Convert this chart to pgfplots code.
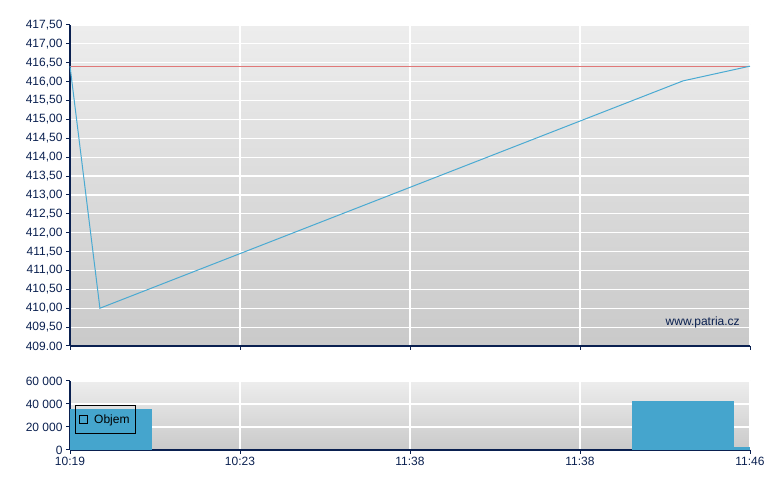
\documentclass[border=0pt]{standalone}
\usepackage{pgfplots}
\pgfplotsset{compat=1.18}
\usepackage{fontspec}
\setmainfont{Liberation Sans}
\definecolor{axnavy}{HTML}{0A2050}
\definecolor{linblue}{HTML}{4AAAD2}
\definecolor{barblue}{HTML}{45A5CD}
\definecolor{refred}{HTML}{E07878}
\begin{document}
\begin{tikzpicture}[x=1bp,y=1bp]
\useasboundingbox (0,0) rectangle (780,490);
\pgfplotsset{
 every axis/.append style={
  scale only axis, width=680bp, xmin=0, xmax=4,
  axis lines=left, axis line style={-, draw=axnavy, line width=1.2bp},
  tick style={draw=axnavy, line width=1bp}, tick align=outside, major tick length=4bp,
  grid=major, major grid style={white, line width=1.2bp},
  tick label style={font=\fontsize{12bp}{14bp}\selectfont, text=axnavy},
  xtick={0,1,2,3,4}, scaled y ticks=false,
 }}
% price chart
\begin{axis}[at={(70bp,144bp)}, anchor=south west, height=321bp,
  ymin=409, ymax=417.5,
  ytick={409,409.5,410,410.5,411,411.5,412,412.5,413,413.5,414,414.5,415,415.5,416,416.5,417,417.5},
  yticklabels={{409.00},{409,50},{410,00},{410,50},{411,00},{411,50},{412,00},{412,50},{413,00},{413,50},{414,00},{414,50},{415,00},{415,50},{416,00},{416,50},{417,00},{417,50}},
  xticklabels={},
  axis background/.style={shade, top color=white!93!black, bottom color=white!79!black},
  clip=false]
\addplot[refred, line width=1.2bp] coordinates {(0,416.41) (4,416.41)};
\addplot[linblue, line width=1bp] coordinates {(0,416.41) (0.176,410.0) (3.606,416.02) (4,416.41)};
\node[anchor=east, font=\fontsize{12bp}{14bp}\selectfont, text=axnavy] at (rel axis cs:0.99,0.072) {www.patria.cz};
\end{axis}
% volume chart
\begin{axis}[at={(70bp,40bp)}, anchor=south west, height=69bp,
  ymin=0, ymax=60000,
  ytick={0,20000,40000,60000},
  yticklabels={{0},{20 000},{40 000},{60 000}},
  xticklabels={10:19,10:23,11:38,11:38,11:46},
  axis background/.style={shade, top color=white!93!black, bottom color=white!79!black},
  legend style={at={(0.0074,0.652)}, anchor=north west, draw=black, fill=none, line width=0.8bp,
    font=\fontsize{12bp}{14bp}\selectfont, inner xsep=4bp, inner ysep=7bp,
    /tikz/every odd column/.append style={column sep=4bp}},
  ]
\addplot[fill=barblue, draw=none, forget plot] coordinates {(0,0) (0,35600) (0.482,35600) (0.482,0)} -- cycle;
\addplot[fill=barblue, draw=none, forget plot] coordinates {(3.306,0) (3.306,42600) (3.906,42600) (3.906,0)} -- cycle;
\addplot[fill=barblue, draw=none, forget plot] coordinates {(3.906,0) (3.906,2600) (4,2600) (4,0)} -- cycle;
\addlegendimage{legend image code/.code={\draw[black, line width=0.8bp] (3bp,-4bp) rectangle (11bp,4bp);}}
\addlegendentry{Objem}
\end{axis}
\end{tikzpicture}
\end{document}
